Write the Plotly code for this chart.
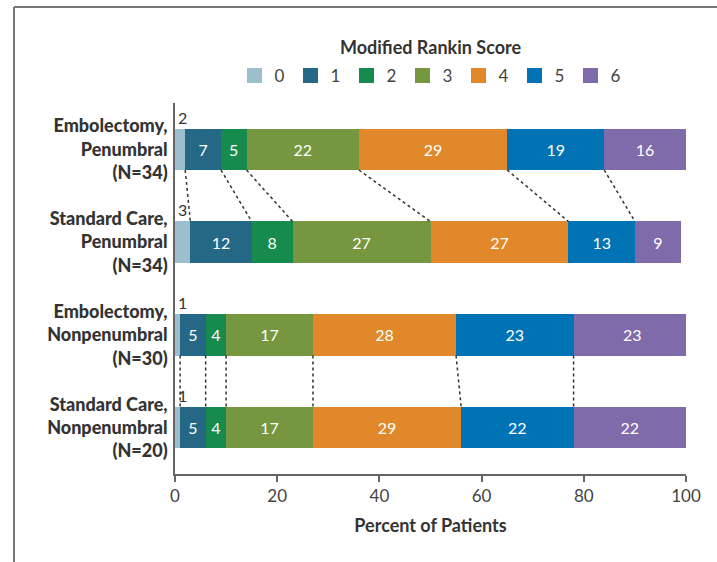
import plotly.graph_objects as go

# Modified Rankin Score distribution by treatment group (percent of patients)
groups = [
    "Embolectomy,<br>Penumbral<br>(N=34)",
    "Standard Care,<br>Penumbral<br>(N=34)",
    "Embolectomy,<br>Nonpenumbral<br>(N=30)",
    "Standard Care,<br>Nonpenumbral<br>(N=20)",
]
scores = ["0", "1", "2", "3", "4", "5", "6"]
score_0 = [2, 3, 1, 1]
score_1 = [7, 12, 5, 5]
score_2 = [5, 8, 4, 4]
score_3 = [22, 27, 17, 17]
score_4 = [29, 27, 28, 29]
score_5 = [19, 13, 23, 22]
score_6 = [16, 9, 23, 22]
x_ticks = [0, 20, 40, 60, 80, 100]

series = [score_0, score_1, score_2, score_3, score_4, score_5, score_6]
colors = ["#9dbfcd", "#246886", "#178a4d", "#76963f", "#e1892a", "#0073b4", "#7f6ba9"]

row_pos = [3, 2, 1, 0]          # top-to-bottom order of the groups
bar_w = 0.445

# plot-area geometry in pixels
W, H = 717, 562
ML, MR, MT, MB = 175, 31, 103, 88
PW, PH = W - ML - MR, H - MT - MB

fig = go.Figure()

for k, (name, vals, col) in enumerate(zip(scores, series, colors)):
    fig.add_trace(go.Bar(
        y=row_pos, x=vals, name=name, orientation="h", width=bar_w,
        legendgroup=name, showlegend=False,
        marker=dict(color=col, line=dict(width=0)),
        text=[str(v) for v in vals] if k > 0 else None,
        textposition="inside", insidetextanchor="middle",
        textfont=dict(color="white", size=16, family="Lato"),
        hoverinfo="skip",
    ))
    # square legend swatch for this score
    fig.add_trace(go.Scatter(
        x=[None], y=[None], mode="markers", name=name, legendgroup=name,
        marker=dict(symbol="square", size=15, color=col),
        hoverinfo="skip",
    ))

# score-0 values shown just above the start of each bar
for yp, v in zip(row_pos, score_0):
    fig.add_annotation(x=0, y=yp + bar_w / 2, text=str(v), showarrow=False,
                       xanchor="left", yanchor="bottom", xshift=1, yshift=0,
                       font=dict(size=16, color="#333", family="Lato"))

# dotted connectors between cumulative boundaries of paired bars
def cumulative(i):
    out, s = [], 0
    for vals in series:
        s += vals[i]
        out.append(s)
    return out

cx, cy = [], []
for a, b in [(0, 1), (2, 3)]:
    ca, cb = cumulative(a), cumulative(b)
    for j in range(len(scores) - 1):
        cx += [ca[j], cb[j], None]
        cy += [row_pos[a] - bar_w / 2, row_pos[b] + bar_w / 2, None]
fig.add_trace(go.Scatter(x=cx, y=cy, mode="lines", showlegend=False,
                         line=dict(color="#333", width=1.5, dash="dot"),
                         hoverinfo="skip"))

# outer frame lines (top and left)
fx0 = (14 - ML) / PW
fy_top = 1 + (MT - 7) / PH
fy_bot = -(MB + 2) / PH
fx_right = (W + 2 - ML) / PW
fig.add_shape(type="line", xref="paper", yref="paper", x0=fx0, x1=fx_right,
              y0=fy_top, y1=fy_top, line=dict(color="#777", width=2))
fig.add_shape(type="line", xref="paper", yref="paper", x0=fx0, x1=fx0,
              y0=fy_top, y1=fy_bot, line=dict(color="#777", width=2))

fig.add_annotation(xref="paper", yref="paper", x=0.5, y=1 + (MT - 47) / PH,
                   text="<b>Modified Rankin Score</b>", showarrow=False,
                   xanchor="center", yanchor="middle",
                   font=dict(size=18, color="#333", family="Lato"))

fig.update_layout(
    width=W, height=H,
    margin=dict(l=ML, r=MR, t=MT, b=MB, autoexpand=False),
    barmode="stack",
    paper_bgcolor="white", plot_bgcolor="white",
    font=dict(family="Lato", color="#333"),
    showlegend=True,
    legend=dict(orientation="h", x=0.5, xanchor="center",
                y=1 + (MT - 76) / PH, yanchor="middle",
                traceorder="normal", entrywidth=11, entrywidthmode="pixels",
                font=dict(size=17, color="#444", family="Lato"),
                itemclick=False, itemdoubleclick=False),
    xaxis=dict(range=[0, 100], tickvals=x_ticks, ticktext=[str(t) for t in x_ticks],
               showline=True, linecolor="#666", linewidth=1.5,
               ticks="outside", ticklen=6, tickcolor="#666", tickwidth=1.5,
               showgrid=False, zeroline=False,
               tickfont=dict(size=17, color="#444", family="Lato"),
               title=dict(text="<b>Percent of Patients</b>", standoff=14,
                          font=dict(size=18, color="#333", family="Lato"))),
    yaxis=dict(range=[-0.5, 3.5], tickvals=row_pos, ticktext=groups,
               showline=True, linecolor="#666", linewidth=1.5,
               ticks="", showgrid=False, zeroline=False, ticklabelstandoff=2,
               tickfont=dict(size=18, color="#333", family="Lato Black, Lato")),
)

fig.write_html("out.html")
